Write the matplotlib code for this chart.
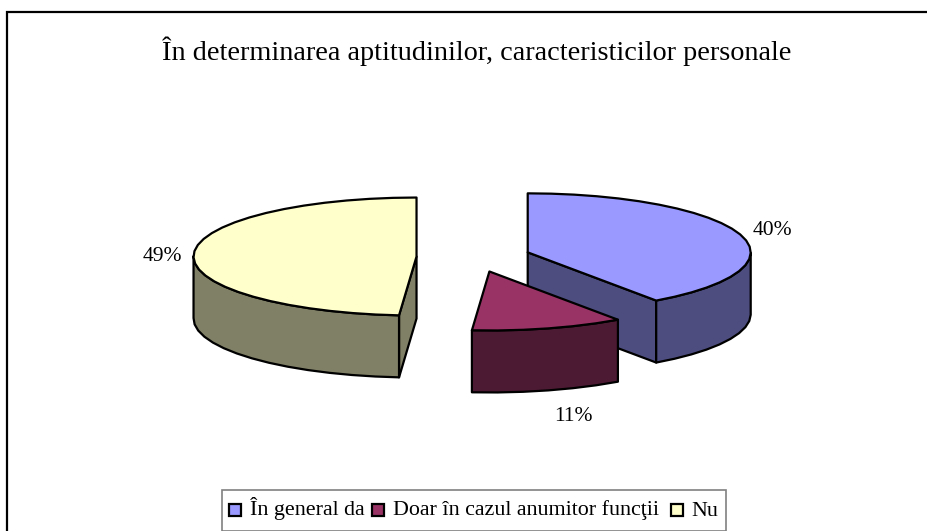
import numpy as np
import matplotlib
matplotlib.use("Agg")
import matplotlib.pyplot as plt
from matplotlib.patches import Polygon, Rectangle

title = "În determinarea aptitudinilor, caracteristicilor personale"
categories = ["În general da", "Doar în cazul anumitor funcţii", "Nu"]
values = [40, 11, 49]
top_colors = ["#9999FF", "#993366", "#FFFFCC"]
side_colors = ["#4D4D80", "#4D1A33", "#808066"]
label_xy = [(772, 235), (573, 421), (162, 261)]
legend_swatch_x = [229, 372, 671]
legend_text_x = [250, 393, 691]
draw_order = [0, 2, 1]

CX, CY, RX, RY, DEPTH, EXPLODE = 473.5, 257, 223, 59, 62, 57
SQUASH = RY / RX

plt.rcParams["font.family"] = ["Liberation Serif", "DejaVu Serif"]
fig = plt.figure(figsize=(9.28, 5.31), dpi=100)
ax = fig.add_axes([0, 0, 1, 1])
ax.set_xlim(0, 928)
ax.set_ylim(531, 0)
ax.axis("off")

# chart frame (open at the right and bottom image edges)
ax.plot([7.5, 7.5, 928], [531, 11.5, 11.5], color="black", lw=1.6, solid_joinstyle="miter")


def warp(t):
    # slight projection shift of the drawn angle towards the front of the pie
    return t + 0.45 * (1 - np.cos(np.radians(t)))


def arc(apex, a0, a1):
    n = max(2, int((a1 - a0) / 6) + 1)
    t = np.radians(warp(np.linspace(a0, a1, n)))
    return np.column_stack([apex[0] + RX * np.sin(t), apex[1] - RY * np.cos(t)])


def point(apex, a):
    t = np.radians(warp(a))
    return np.array([apex[0] + RX * np.sin(t), apex[1] - RY * np.cos(t)])


def add(points, fc, z):
    ax.add_patch(Polygon(points, closed=True, fc=fc, ec="black", lw=1.6,
                         joinstyle="round", zorder=z))


edges = np.cumsum([0] + values) / sum(values) * 360
for z, i in enumerate(draw_order):
    a0, a1 = edges[i], edges[i + 1]
    mid = np.radians((a0 + a1) / 2)
    apex = np.array([CX + EXPLODE * np.sin(mid), CY - EXPLODE * SQUASH * np.cos(mid)])
    base = z * 10
    down = np.array([0, DEPTH])
    for ang, visible in ((a0, np.sin(np.radians(a0)) < -1e-6), (a1, np.sin(np.radians(a1)) > 1e-6)):
        if visible:
            p = point(apex, ang)
            add([apex, p, p + down, apex + down], side_colors[i], base + 1)
    lo, hi = max(a0, 90), min(a1, 270)
    if hi > lo:
        rim = arc(apex, lo, hi)
        add(np.vstack([rim, (rim + down)[::-1]]), side_colors[i], base + 2)
    add(np.vstack([[apex], arc(apex, a0, a1)]), top_colors[i], base + 3)
    ax.text(*label_xy[i], f"{values[i]}%", fontsize=15.5, ha="center", va="baseline", zorder=100)

ax.text(476.5, 60, title, fontsize=20.3, ha="center", va="baseline")

# legend box
ax.add_patch(Rectangle((222.5, 490), 504, 40.5, fc="white", ec="#808080", lw=1.2, zorder=200))
for name, color, sx, tx in zip(categories, top_colors, legend_swatch_x, legend_text_x):
    ax.add_patch(Rectangle((sx, 503.5), 12, 12, fc=color, ec="black", lw=1.6, zorder=201))
    ax.text(tx, 515.5, name, fontsize=15.8, ha="left", va="baseline", zorder=201)

fig.savefig("out.png", dpi=100)
